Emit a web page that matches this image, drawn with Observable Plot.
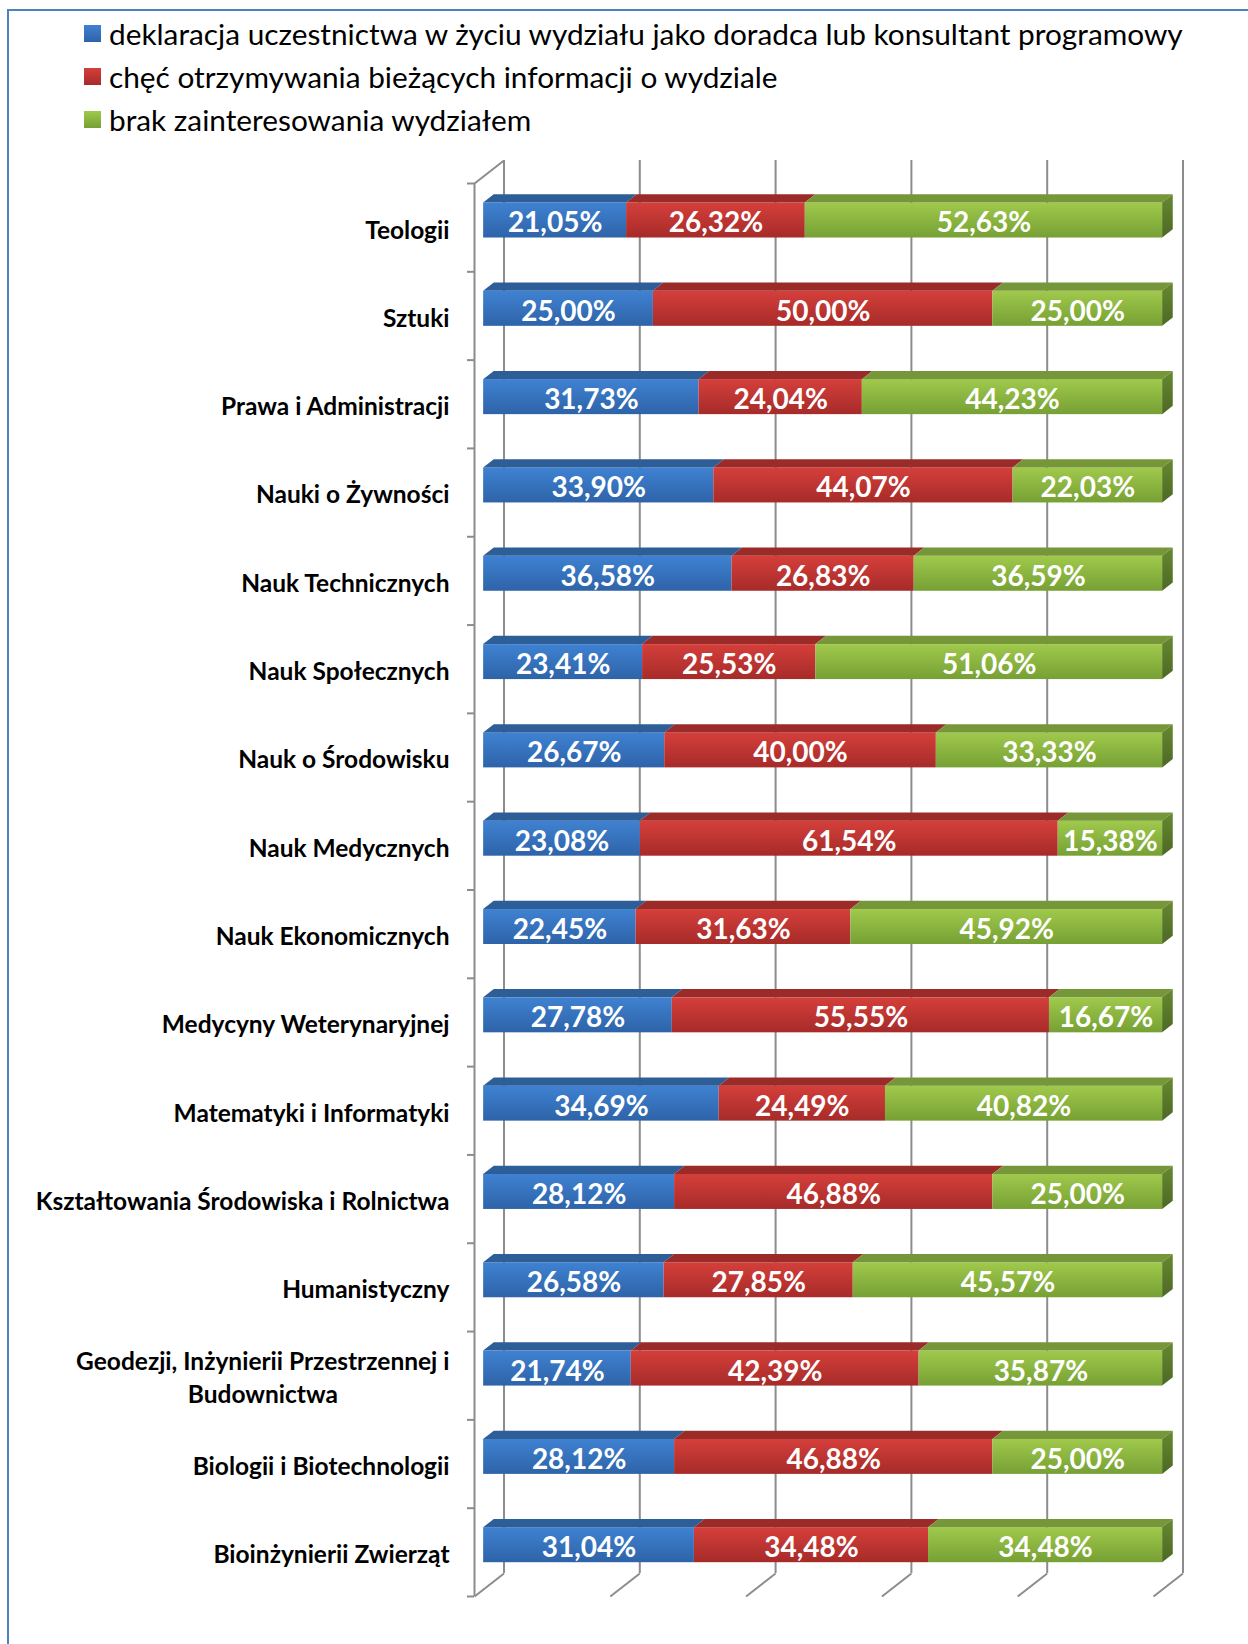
<!DOCTYPE html>
<html><head><meta charset="utf-8">
<script src="https://cdn.jsdelivr.net/npm/d3@7"></script>
<script src="https://cdn.jsdelivr.net/npm/@observablehq/plot@0.6"></script>
<style>
body{margin:0;background:#fff;font-family:Lato,sans-serif;}
#page{position:relative;width:1248px;height:1644px;overflow:hidden;background:#fff;}
.frameTop{position:absolute;left:7px;top:9px;width:1241px;height:2px;background:#4f81bd;}
.frameLeft{position:absolute;left:7px;top:9px;width:2px;height:1635px;background:#4f81bd;}
#legend{position:absolute;left:0;top:0;width:1248px;height:145px;}
.row{position:absolute;left:84px;height:36px;display:flex;align-items:center;font-size:29.8px;color:#000;white-space:nowrap;font-family:Lato,sans-serif;}
.sw{width:17px;height:17px;margin-right:8px;flex:none;}
#chart{position:absolute;left:0;top:145px;}
</style></head>
<body>
<svg width="0" height="0" style="position:absolute">
  <defs>
    <linearGradient id="gBlue" x1="0" y1="0" x2="0" y2="1"><stop offset="0" stop-color="#3f82d2"/><stop offset="1" stop-color="#2e63a8"/></linearGradient>
    <linearGradient id="gRed" x1="0" y1="0" x2="0" y2="1"><stop offset="0" stop-color="#d53f3b"/><stop offset="1" stop-color="#a62b29"/></linearGradient>
    <linearGradient id="gGreen" x1="0" y1="0" x2="0" y2="1"><stop offset="0" stop-color="#a0c94c"/><stop offset="1" stop-color="#76a034"/></linearGradient>
    <linearGradient id="gSide" x1="0" y1="0" x2="0" y2="1"><stop offset="0" stop-color="#66892f"/><stop offset="1" stop-color="#4c6924"/></linearGradient>
  </defs>
</svg>
<div id="page">
  <div class="frameTop"></div>
  <div class="frameLeft"></div>
  <div id="legend"></div>
  <div id="chart"></div>
</div>
<script>
const categories = ["Teologii","Sztuki","Prawa i Administracji","Nauki o Żywności","Nauk Technicznych","Nauk Społecznych","Nauk o Środowisku","Nauk Medycznych","Nauk Ekonomicznych","Medycyny Weterynaryjnej","Matematyki i Informatyki","Kształtowania Środowiska i Rolnictwa","Humanistyczny","Geodezji, Inżynierii Przestrzennej i Budownictwa","Biologii i Biotechnologii","Bioinżynierii Zwierząt"];
const declaration = [21.05,25.00,31.73,33.90,36.58,23.41,26.67,23.08,22.45,27.78,34.69,28.12,26.58,21.74,28.12,31.04];
const information = [26.32,50.00,24.04,44.07,26.83,25.53,40.00,61.54,31.63,55.55,24.49,46.88,27.85,42.39,46.88,34.48];
const noInterest = [52.63,25.00,44.23,22.03,36.59,51.06,33.33,15.38,45.92,16.67,40.82,25.00,45.57,35.87,25.00,34.48];
const seriesNames = ["deklaracja uczestnictwa w życiu wydziału jako doradca lub konsultant programowy","chęć otrzymywania bieżących informacji o wydziale","brak zainteresowania wydziałem"];
const xTicks = [0,20,40,60,80,100];

const frontFills = ["url(#gBlue)","url(#gRed)","url(#gGreen)"];
const topFills = ["#2d5e98","#9a2b29","#76963a"];
const legendFills = ["linear-gradient(#3f82d2,#2e63a8)","linear-gradient(#d53f3b,#a62b29)","linear-gradient(#a0c94c,#76a034)"];

// legend
const legend = document.getElementById("legend");
const rowCenters = [33,76,119];
seriesNames.forEach((name,s)=>{
  const r = document.createElement("div");
  r.className = "row";
  r.style.top = (rowCenters[s]-18)+"px";
  const sw = document.createElement("div");
  sw.className = "sw"; sw.style.background = legendFills[s];
  r.appendChild(sw);
  r.appendChild(document.createTextNode(name));
  legend.appendChild(r);
});

// geometry (3D depth in data units)
const T = 145;
const DX = 29.5/6.79, DY = 23/88.31, ZF = 0.31, ZB = 0.67, HH = 0.198;
const series = [declaration, information, noInterest];
const segs = [];
categories.forEach((c,i)=>{
  let acc = 0;
  series.forEach((vals,s)=>{ const v = vals[i]; segs.push({i, s, x0: acc, x1: acc+v, v, key: i+"-"+s}); acc += v; });
});
const fmt = v => v.toFixed(2).replace(".", ",") + "%";

const topRows = [];
segs.forEach(d=>{
  const top = d.i + 0.5 - HH;
  topRows.push({key:d.key, s:d.s, y: top - ZF*DY, x1: d.x0 + ZF*DX, x2: d.x1 + ZF*DX});
  topRows.push({key:d.key, s:d.s, y: top - ZB*DY, x1: d.x0 + ZB*DX, x2: d.x1 + ZB*DX});
});
const sideRows = [];
segs.filter(d=>d.s===2).forEach(d=>{
  const top = d.i + 0.5 - HH, bot = d.i + 0.5 + HH;
  sideRows.push({key:d.i, x: d.x1 + ZF*DX, y1: bot - ZF*DY, y2: top - ZF*DY});
  sideRows.push({key:d.i, x: d.x1 + ZB*DX, y1: bot - ZB*DY, y2: top - ZB*DY});
});

// labels wrapping
const LABEL_SIZE = 24.5;
const ctx = document.createElement("canvas").getContext("2d");
ctx.font = "bold " + LABEL_SIZE + "px Lato";
function wrap(text, maxW){
  const words = text.split(" "); const lines = []; let cur = "";
  for (const w of words){
    const t = cur ? cur + " " + w : w;
    if (ctx.measureText(t).width > maxW && cur){ lines.push(cur); cur = w; } else cur = t;
  }
  lines.push(cur); return lines;
}
const labelRows = categories.map((c,i)=>({c, i, lines: wrap(c, 440)}));
const single = labelRows.filter(d=>d.lines.length===1);
const multi = labelRows.filter(d=>d.lines.length>1);

const grid = {stroke:"#8c8c8c", strokeWidth:2};
const marks = [
  Plot.ruleX(xTicks, {x: d=>d+DX, y1: ()=>-DY, y2: ()=>categories.length-DY, ...grid}),
  Plot.link(xTicks, {x1: d=>d, y1: ()=>categories.length, x2: d=>d+DX, y2: ()=>categories.length-DY, ...grid}),
  Plot.link([0], {x1: d=>d, y1: ()=>0, x2: d=>d+DX, y2: ()=>-DY, ...grid}),
  Plot.ruleX([0], {x: d=>d, y1: ()=>0, y2: ()=>categories.length, ...grid}),
  Plot.ruleY(d3.range(categories.length+1), {y: d=>d, x1: ()=>0, x2: ()=>0, insetLeft: -7, ...grid}),
];
[0,1,2].forEach(s=>{
  marks.push(Plot.rect(segs.filter(d=>d.s===s), {
    x1: d=>d.x0+ZF*DX, x2: d=>d.x1+ZF*DX,
    y1: d=>d.i+0.5-HH-ZF*DY, y2: d=>d.i+0.5+HH-ZF*DY,
    fill: frontFills[s]
  }));
  marks.push(Plot.areaX(topRows.filter(d=>d.s===s), {y:"y", x1:"x1", x2:"x2", z:"key", fill: topFills[s], curve:"linear"}));
});
marks.push(Plot.areaY(sideRows, {x:"x", y1:"y1", y2:"y2", z:"key", fill:"url(#gSide)", curve:"linear"}));
marks.push(Plot.text(segs, {
  x: d=>(d.x0+d.x1)/2+ZF*DX, y: d=>d.i+0.5-ZF*DY, text: d=>fmt(d.v),
  fill:"white", fontSize:28, fontWeight:"bold", fontFamily:"Lato", dy:3
}));
marks.push(Plot.text(single, {
  x: ()=>0, y: d=>d.i+0.5, text: d=>d.c, textAnchor:"end", dx:-25, dy:3,
  fill:"#000", fontSize:LABEL_SIZE, fontWeight:"bold", fontFamily:"Lato"
}));
multi.forEach(d=>{
  const w = d3.max(d.lines, l=>ctx.measureText(l).width);
  marks.push(Plot.text([d], {
    x: ()=>0, y: d=>d.i+0.5, text: d=>d.lines.join("\n"), textAnchor:"middle", dx:-25-w/2, dy:0,
    lineHeight:1.35, fill:"#000", fontSize:LABEL_SIZE, fontWeight:"bold", fontFamily:"Lato"
  }));
});

const chart = Plot.plot({
  width: 1248, height: 1644 - T,
  margin: 0,
  style: {fontFamily:"Lato, sans-serif", background:"transparent", overflow:"visible"},
  x: {domain:[0,100], range:[474,1153], axis:null},
  y: {domain:[0,categories.length], range:[183-T, 1596-T], axis:null},
  marks
});
document.getElementById("chart").appendChild(chart);
</script>
</body></html>
